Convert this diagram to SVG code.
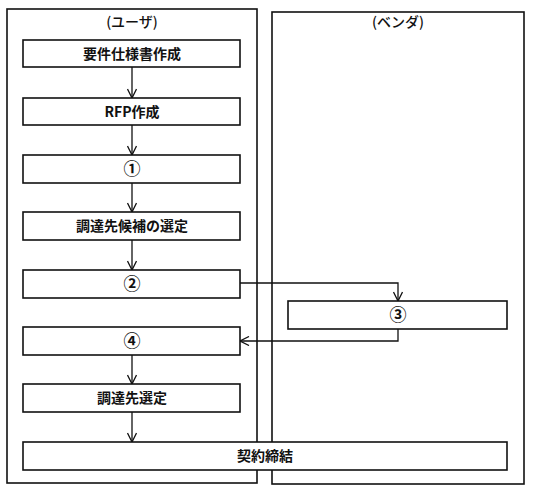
<svg xmlns="http://www.w3.org/2000/svg" width="533" height="496" viewBox="0 0 533 496">
<defs>
<marker id="ah" viewBox="0 0 10 10" refX="10" refY="5" markerWidth="10" markerHeight="10" markerUnits="userSpaceOnUse" orient="auto">
<path d="M1,0.5 L10,5 L1,9.5" fill="none" stroke="#111" stroke-width="1.3"/>
</marker>
</defs>
<style>
.lane{fill:#fff;stroke:#111;stroke-width:1.6}
.box{fill:#fff;stroke:#111;stroke-width:1.6}
.lt{font-family:"Noto Sans CJK JP","Noto Sans",sans-serif;font-size:14px;font-weight:500;fill:#111;text-anchor:middle}
.t{font-family:"Noto Sans CJK JP","Noto Sans",sans-serif;font-size:14px;font-weight:bold;fill:#111;text-anchor:middle}
.n{font-family:"Noto Sans CJK JP","Noto Sans",sans-serif;font-size:17px;font-weight:bold;fill:#111;text-anchor:middle}
.c{fill:none;stroke:#111;stroke-width:1.3;marker-end:url(#ah)}
</style>
<rect width="533" height="496" fill="#fff"/>
<g id="lane-user">
<rect class="lane" x="7" y="9" width="250" height="474"/>
<text class="lt" x="132" y="27">(ユーザ)</text>
</g>
<g id="lane-vendor">
<rect class="lane" x="272" y="12" width="252" height="472"/>
<text class="lt" x="398" y="27">(ベンダ)</text>
</g>
<g id="n1"><rect class="box" x="23" y="40" width="217" height="27"/><text class="t" x="132" y="58.5">要件仕様書作成</text></g>
<g id="n2"><rect class="box" x="23" y="98" width="217" height="27"/><text class="t" x="132" y="116.5">RFP作成</text></g>
<g id="n3"><rect class="box" x="23" y="155" width="217" height="28"/><text class="n" x="132" y="175">①</text></g>
<g id="n4"><rect class="box" x="23" y="212" width="217" height="28"/><text class="t" x="132" y="231">調達先候補の選定</text></g>
<g id="n5"><rect class="box" x="23" y="270" width="217" height="28"/><text class="n" x="132" y="290">②</text></g>
<g id="n6"><rect class="box" x="288" y="301" width="219" height="28"/><text class="n" x="398" y="321">③</text></g>
<g id="n7"><rect class="box" x="23" y="327" width="217" height="28"/><text class="n" x="132" y="347">④</text></g>
<g id="n8"><rect class="box" x="23" y="384" width="217" height="28"/><text class="t" x="132" y="403">調達先選定</text></g>
<g id="n9"><rect class="box" x="23" y="442" width="484" height="28"/><text class="t" x="265" y="461">契約締結</text></g>
<g id="connectors">
<path class="c" d="M132,67 V98"/>
<path class="c" d="M132,125 V155"/>
<path class="c" d="M132,183 V212"/>
<path class="c" d="M132,240 V270"/>
<path class="c" d="M240,283 H398 V301"/>
<path class="c" d="M398,329 V341 H240"/>
<path class="c" d="M132,355 V384"/>
<path class="c" d="M132,412 V442"/>
</g>
</svg>
